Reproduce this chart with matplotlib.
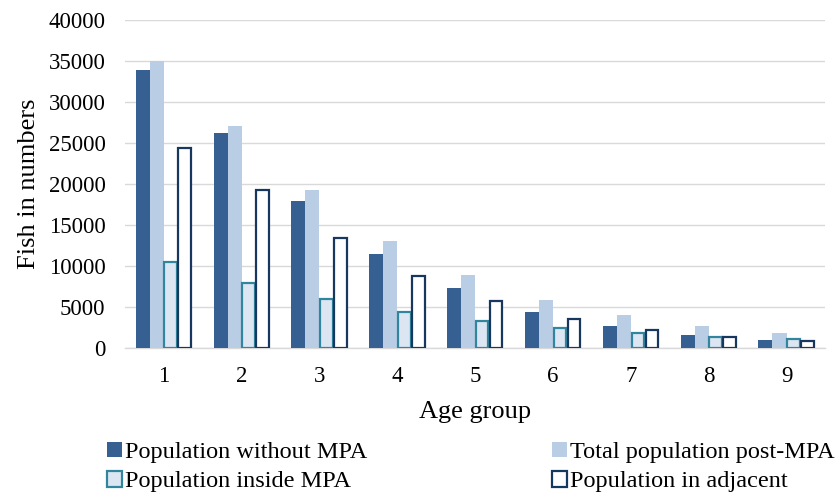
import numpy as np
import matplotlib
matplotlib.use("Agg")
import matplotlib.pyplot as plt

plt.rcParams['font.family'] = ['Liberation Serif', 'DejaVu Serif']

ages = ['1', '2', '3', '4', '5', '6', '7', '8', '9']
without_mpa = [33900, 26200, 17900, 11400, 7300, 4400, 2650, 1600, 980]
total_post = [35000, 27000, 19300, 13100, 8900, 5900, 4000, 2700, 1830]
inside_mpa = [10500, 7900, 5950, 4400, 3300, 2450, 1830, 1390, 1060]
adjacent = [24400, 19200, 13450, 8800, 5700, 3550, 2250, 1390, 900]
yticks = [0, 5000, 10000, 15000, 20000, 25000, 30000, 35000, 40000]

fig = plt.figure(figsize=(8.38, 4.95), dpi=100)
ax = fig.add_axes([0.149, 0.297, 0.836, 0.663])

x = np.arange(len(ages))
w = 0.18
b1 = ax.bar(x - 1.5 * w, without_mpa, w, color='#376092', label='Population without MPA', zorder=3)
b2 = ax.bar(x - 0.5 * w, total_post, w, color='#B9CDE5', label='Total population post-MPA', zorder=3)
b3 = ax.bar(x + 0.5 * w, inside_mpa, w * 0.9, color='#DCE6F2', edgecolor='#31859C',
            linewidth=1.6, label='Population inside MPA', zorder=3)
b4 = ax.bar(x + 1.5 * w, adjacent, w * 0.9, color='white', edgecolor='#17375E',
            linewidth=1.6, label='Population in adjacent', zorder=3)

ax.set_ylim(0, 40000)
ax.set_yticks(yticks)
ax.set_yticklabels([str(v) for v in yticks])
ax.set_xlim(-0.5, len(ages) - 0.5)
ax.set_xticks(x)
ax.set_xticklabels(ages)
ax.tick_params(axis='both', length=0, labelsize=16.5, colors='black')
ax.tick_params(axis='x', pad=13)
ax.tick_params(axis='y', pad=14)
ax.yaxis.grid(True, color='#D9D9D9', linewidth=1, zorder=0)
for s in ['top', 'right', 'left']:
    ax.spines[s].set_visible(False)
ax.spines['bottom'].set_color('#D9D9D9')
ax.spines['bottom'].set_linewidth(1)

ax.set_xlabel('Age group', fontsize=19, labelpad=10)
ax.set_ylabel('Fish in numbers', fontsize=19, labelpad=6)

# legend filled row-wise like the original
handles = [b1, b3, b2, b4]
labels = [h.get_label() for h in handles]
fig.legend(handles, labels, loc='center left', bbox_to_anchor=(0.1277, 0.0566), ncol=2,
           frameon=False, fontsize=17.5, handlelength=0.62, handleheight=0.62,
           handletextpad=0.13, columnspacing=7.6, labelspacing=0.33, borderpad=0,
           borderaxespad=0)

fig.savefig('out.png', dpi=100)
